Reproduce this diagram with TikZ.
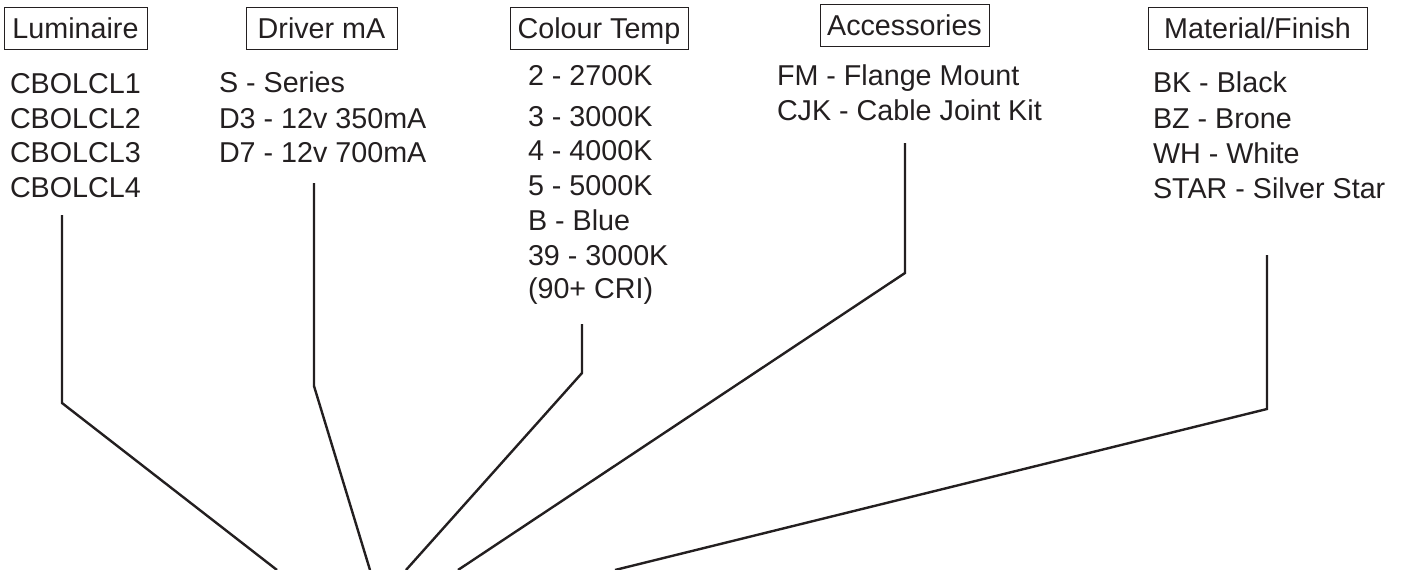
\documentclass[tikz,border=0pt]{standalone}
\usepackage{fontspec}
\setmainfont{Liberation Sans}
\definecolor{ink}{HTML}{231F20}
\begin{document}
\begin{tikzpicture}[x=1pt,y=-1pt,
  every node/.style={inner sep=0pt,outer sep=0pt,text=ink,font=\fontsize{28.7}{34}\selectfont},
  hdr/.style={draw=ink,line width=0.9pt,minimum height=42pt,text height=20.5pt,text depth=0pt,anchor=center},
  item/.style={anchor=base west},
  conn/.style={draw=ink,line width=2.4pt,line join=miter}]
\useasboundingbox (0,0) rectangle (1417,570);
% headers
\node[hdr,minimum width=143pt] (hLum) at (75.5,28) {Luminaire};
\node[hdr,minimum width=151pt] (hDrv) at (321.5,28) {Driver mA};
\node[hdr,minimum width=178pt] (hCol) at (599,28) {Colour Temp};
\node[hdr,minimum width=169pt] (hAcc) at (904.5,25.5) {Accessories};
\node[hdr,minimum width=219pt] (hMat) at (1257.5,28) {Material/Finish};
% Luminaire list
\node[item] (l1) at (10,93) {CBOLCL1};
\node[item] (l2) at (10,128) {CBOLCL2};
\node[item] (l3) at (10,162) {CBOLCL3};
\node[item] (l4) at (10,197) {CBOLCL4};
% Driver list
\node[item] (d1) at (219,92) {S - Series};
\node[item] (d2) at (219,128) {D3 - 12v 350mA};
\node[item] (d3) at (219,162) {D7 - 12v 700mA};
% Colour list
\node[item] (c1) at (528,85) {2 - 2700K};
\node[item] (c2) at (528,126) {3 - 3000K};
\node[item] (c3) at (528,160) {4 - 4000K};
\node[item] (c4) at (528,195) {5 - 5000K};
\node[item] (c5) at (528,230) {B - Blue};
\node[item] (c6) at (528,265) {39 - 3000K};
\node[item] (c7) at (528,298) {(90+ CRI)};
% Accessories list
\node[item] (a1) at (777,85) {FM - Flange Mount};
\node[item] (a2) at (777,120) {CJK - Cable Joint Kit};
% Material list
\node[item] (m1) at (1153,92) {BK - Black};
\node[item] (m2) at (1153,128) {BZ - Brone};
\node[item] (m3) at (1153,163) {WH - White};
\node[item] (m4) at (1153,198) {STAR - Silver Star};
% connector points
\coordinate (lTop) at (62,215);   \coordinate (lMid) at (62,403);   \coordinate (lEnd) at (277,570);
\coordinate (dTop) at (314,183);  \coordinate (dMid) at (314,386);  \coordinate (dEnd) at (370,570);
\coordinate (cTop) at (582,324);  \coordinate (cMid) at (582,373);  \coordinate (cEnd) at (406,570);
\coordinate (aTop) at (905,143);  \coordinate (aMid) at (905,273);  \coordinate (aEnd) at (458,570);
\coordinate (mTop) at (1267,255); \coordinate (mMid) at (1267,409); \coordinate (mEnd) at (615,570);
\draw[conn] (lTop) -- (lMid) -- (lEnd);
\draw[conn] (dTop) -- (dMid) -- (dEnd);
\draw[conn] (cTop) -- (cMid) -- (cEnd);
\draw[conn] (aTop) -- (aMid) -- (aEnd);
\draw[conn] (mTop) -- (mMid) -- (mEnd);
\end{tikzpicture}
\end{document}
